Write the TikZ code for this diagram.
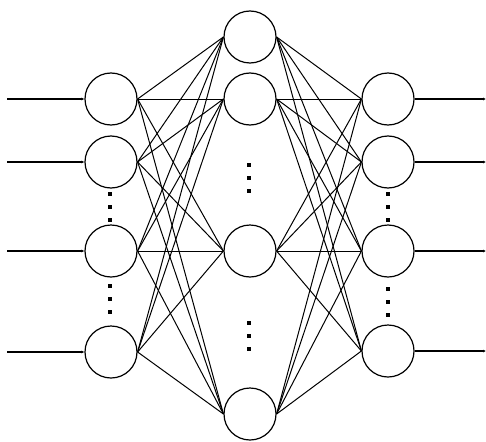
\documentclass[tikz,border=0pt]{standalone}
\usetikzlibrary{arrows.meta}
\begin{document}
\begin{tikzpicture}[x=1pt,y=-1pt,
  neuron/.style={draw,circle,minimum size=52pt,inner sep=0pt,line width=1.2pt,fill=white},
  link/.style={line width=1pt},
  signal/.style={line width=1.1pt,-{Latex[length=3pt,width=3pt]}},
  dotmark/.style={fill=black}]
\useasboundingbox (0,0) rectangle (486,441);
% neuron centres
\foreach \n/\y in {1/99,2/162,3/251,4/352} \coordinate (ip\n) at (111,\y);
\foreach \n/\y in {1/37,2/99,3/251,4/414} \coordinate (hp\n) at (250,\y);
\foreach \n/\y in {1/99,2/162,3/251,4/351} \coordinate (op\n) at (388,\y);
% neurons
\foreach \n in {1,...,4} {
  \node[neuron] (i\n) at (ip\n) {};
  \node[neuron] (h\n) at (hp\n) {};
  \node[neuron] (o\n) at (op\n) {};
}
% weight connections, fully connected between layers
\foreach \a in {1,...,4}
  \foreach \b in {1,...,4} {
    \draw[link] (i\a.east) -- (h\b.west);
    \draw[link] (h\a.east) -- (o\b.west);
  }
% input and output signals
\foreach \n/\y in {1/99,2/162,3/251,4/352} {
  \coordinate (in\n) at (7,\y);
  \draw[signal] (in\n) -- (i\n.west);
}
\foreach \n/\y in {1/99,2/162,3/251,4/351} {
  \coordinate (out\n) at (486,\y);
  \draw[signal] (o\n.east) -- (out\n);
}
% ellipsis dots between neurons
\newcommand{\dotcol}[2]{%
  \foreach \k in {0,1,2}
    \fill[dotmark] (#1-1.8,#2+\k*13-1.8) rectangle ++(3.6,3.6);}
\dotcol{110}{194}
\dotcol{110}{286}
\dotcol{249}{165}
\dotcol{249}{323}
\dotcol{388}{194}
\dotcol{388}{289}
\end{tikzpicture}
\end{document}
